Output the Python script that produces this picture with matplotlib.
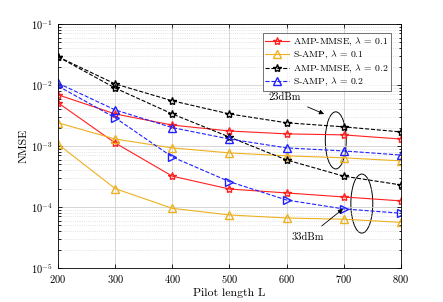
import numpy as np
import matplotlib
matplotlib.use('Agg')
import matplotlib.pyplot as plt
from matplotlib.patches import Ellipse

plt.rcParams['font.family'] = 'serif'
plt.rcParams['font.serif'] = ['cmr10']
plt.rcParams['mathtext.fontset'] = 'cm'
plt.rcParams['axes.formatter.use_mathtext'] = True

L = [200, 300, 400, 500, 600, 700, 800]

# lambda = 0.1
amp_01_23 = [6.9e-3, 3.35e-3, 2.2e-3, 1.76e-3, 1.58e-3, 1.52e-3, 1.30e-3]
amp_01_33 = [5.1e-3, 1.12e-3, 3.2e-4, 1.97e-4, 1.70e-4, 1.46e-4, 1.26e-4]
samp_01_23 = [2.4e-3, 1.30e-3, 9.3e-4, 7.7e-4, 6.9e-4, 6.4e-4, 5.7e-4]
samp_01_33 = [1.07e-3, 2.0e-4, 9.5e-5, 7.4e-5, 6.6e-5, 6.3e-5, 5.6e-5]

# lambda = 0.2
amp_02_23 = [2.9e-2, 1.04e-2, 5.5e-3, 3.35e-3, 2.4e-3, 2.06e-3, 1.70e-3]
amp_02_33 = [2.9e-2, 8.9e-3, 3.35e-3, 1.4e-3, 5.9e-4, 3.2e-4, 2.3e-4]
samp_02_23 = [1.07e-2, 3.9e-3, 2.0e-3, 1.30e-3, 9.3e-4, 8.3e-4, 7.1e-4]
samp_02_33 = [9.6e-3, 2.9e-3, 6.6e-4, 2.6e-4, 1.30e-4, 9.3e-5, 7.9e-5]

red = '#ff2020'
yel = '#edb120'
blu = '#2020ff'

fig = plt.figure(figsize=(4.43, 3.02), dpi=100)
ax = fig.add_axes([0.131, 0.1126, 0.774, 0.808])

ms = 6
ax.plot(L, amp_01_23, '-', color=red, marker='*', mfc='none', ms=ms, lw=0.8, label=r'AMP-MMSE, $\lambda$ = 0.1')
ax.plot(L, amp_01_33, '-', color=red, marker='*', mfc='none', ms=ms, lw=0.8)
ax.plot(L, samp_01_23, '-', color=yel, marker='^', mfc='none', ms=ms, lw=0.8, label=r'S-AMP, $\lambda$ = 0.1')
ax.plot(L, samp_01_33, '-', color=yel, marker='^', mfc='none', ms=ms, lw=0.8)
ax.plot(L, amp_02_23, '--', color='k', marker='*', mfc='none', ms=ms, lw=0.8, label=r'AMP-MMSE, $\lambda$ = 0.2')
ax.plot(L, amp_02_33, '--', color='k', marker='*', mfc='none', ms=ms, lw=0.8)
ax.plot(L, samp_02_23, '--', color=blu, marker='^', mfc='none', ms=ms, lw=0.8, label=r'S-AMP, $\lambda$ = 0.2')
ax.plot(L, samp_02_33, '--', color=blu, marker='>', mfc='none', ms=ms, lw=0.8)

ax.set_yscale('log')
ax.set_xlim(200, 800)
ax.set_ylim(1e-5, 1e-1)
ax.set_xticks(L)
ax.set_xlabel('Pilot length L', fontsize=8.5, labelpad=2)
ax.set_ylabel('NMSE', fontsize=8.5, labelpad=2)
ax.tick_params(which='both', direction='in', top=True, right=True, labelsize=7.5, width=0.6)
ax.tick_params(which='major', length=3)
ax.tick_params(which='minor', length=1.8)
ax.grid(True, which='major', color='#d0d0d0', lw=0.6)
ax.grid(True, which='minor', color='#d0d0d0', lw=0.5, ls=':')
for s in ax.spines.values():
    s.set_linewidth(0.6)

leg = ax.legend(loc='upper right', fontsize=7, frameon=True, fancybox=False,
                edgecolor='#333333', borderpad=0.25, labelspacing=0.1,
                handlelength=2.5, handletextpad=0.4, borderaxespad=0,
                bbox_to_anchor=(0.971, 0.963))
leg.get_frame().set_linewidth(0.6)

ax.add_patch(Ellipse((0.81, 0.523), 0.061, 0.234, transform=ax.transAxes,
                     fill=False, ec='k', lw=0.7))
ax.add_patch(Ellipse((0.886, 0.264), 0.064, 0.242, transform=ax.transAxes,
                     fill=False, ec='k', lw=0.7))
ax.annotate('23dBm', xy=(0.776, 0.631), xytext=(0.662, 0.7), textcoords='axes fraction',
            xycoords='axes fraction', fontsize=7.5, ha='center', va='center', zorder=6,
            arrowprops=dict(arrowstyle='-|>', color='k', lw=0.6, mutation_scale=7,
                            shrinkA=4, shrinkB=0))
ax.annotate('33dBm', xy=(0.831, 0.242), xytext=(0.729, 0.127), textcoords='axes fraction',
            xycoords='axes fraction', fontsize=7.5, ha='center', va='center', zorder=6,
            arrowprops=dict(arrowstyle='-|>', color='k', lw=0.6, mutation_scale=7,
                            shrinkA=4, shrinkB=0))

fig.savefig('out.png', dpi=100)
